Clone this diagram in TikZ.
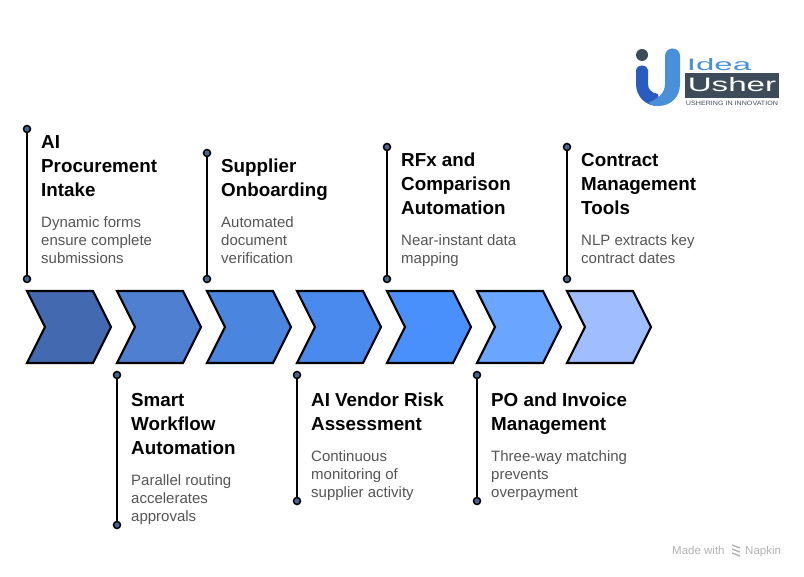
\documentclass[tikz,border=0pt]{standalone}
\usepackage{fontspec}
\setmainfont{Liberation Sans}
\usetikzlibrary{positioning}
\definecolor{chevA}{HTML}{4369B0}
\definecolor{chevB}{HTML}{4F7FD0}
\definecolor{chevC}{HTML}{4A85E0}
\definecolor{chevD}{HTML}{4A8AEE}
\definecolor{chevE}{HTML}{4A90FC}
\definecolor{chevF}{HTML}{6AA5FF}
\definecolor{chevG}{HTML}{A0BEFF}
\definecolor{pinfill}{HTML}{4A6290}
\definecolor{bodygrey}{HTML}{555555}
\definecolor{logodark}{HTML}{3D4B5A}
\definecolor{logoblue}{HTML}{4A90D8}
\definecolor{logodeep}{HTML}{2A5CC0}
\begin{document}
\begin{tikzpicture}[x=1pt,y=-1pt,line join=miter]
  \tikzset{stem/.style={draw=black,line width=2.3pt}}
  \tikzset{pin/.style={circle,draw=black,fill=pinfill,line width=1.5pt,inner sep=0pt,minimum size=7pt}}
  \tikzset{head/.style={anchor=north west,align=left,inner sep=0pt,font=\fontsize{18.8}{24}\selectfont\bfseries}}
  \tikzset{body/.style={anchor=north west,align=left,inner sep=0pt,text=bodygrey,font=\fontsize{15}{18}\selectfont}}
  \tikzset{logotext/.style={inner sep=0pt,transform shape}}
  \tikzset{foot/.style={inner sep=0pt,anchor=base west,text=black!30,font=\fontsize{11.5}{13}\selectfont}}
  \useasboundingbox (0,0) rectangle (804,577);
  % chevrons
  \foreach \name/\col [count=\i from 0] in {a/chevA,b/chevB,c/chevC,d/chevD,e/chevE,f/chevF,g/chevG} {
    \draw[fill=\col,line width=2.2pt] ({27+90*\i},291) -- ({93+90*\i},291) -- ({111+90*\i},327)
      -- ({93+90*\i},363) -- ({27+90*\i},363) -- ({45+90*\i},327) -- cycle;
  }
  % upper stems
  \foreach \name/\x/\ytop in {1/27/129,3/207/153,5/387/147,7/567/147} {
    \node[pin] (t\name) at (\x,\ytop) {};
    \node[pin] (b\name) at (\x,279) {};
    \path[stem] (t\name) -- (b\name);
  }
  % lower stems
  \foreach \name/\x/\ybot in {2/117/525,4/297/501,6/477/501} {
    \node[pin] (t\name) at (\x,375) {};
    \node[pin] (b\name) at (\x,\ybot) {};
    \path[stem] (t\name) -- (b\name);
  }
  % texts
  \node[head] (h1) at (41,135) {AI\\Procurement\\Intake};
  \node[body] (p1) at (41,216) {Dynamic forms\\ensure complete\\submissions};
  \node[head] (h3) at (221,159) {Supplier\\Onboarding};
  \node[body] (p3) at (221,216) {Automated\\document\\verification};
  \node[head] (h5) at (401,153) {RFx and\\Comparison\\Automation};
  \node[body] (p5) at (401,234) {Near-instant data\\mapping};
  \node[head] (h7) at (581,153) {Contract\\Management\\Tools};
  \node[body] (p7) at (581,234) {NLP extracts key\\contract dates};
  \node[head] (h2) at (131,393) {Smart\\Workflow\\Automation};
  \node[body] (p2) at (131,474) {Parallel routing\\accelerates\\approvals};
  \node[head] (h4) at (311,393) {AI Vendor Risk\\Assessment};
  \node[body] (p4) at (311,450) {Continuous\\monitoring of\\supplier activity};
  \node[head] (h6) at (491,393) {PO and Invoice\\Management};
  \node[body] (p6) at (491,450) {Three-way matching\\prevents\\overpayment};
  % logo
  \fill[logodark] (642,55) circle (6);
  \fill[logodeep] (636,70) .. controls (636,64) and (648,64) .. (648,70) -- (648,84)
    .. controls (648,90) and (652,93) .. (658,94) -- (660,105.9) -- (658,106)
    .. controls (645,106) and (636,96) .. (636,84) -- cycle;
  \fill[logoblue] (665,56) .. controls (665,46) and (680,46) .. (680,56) -- (680,84)
    .. controls (680,97) and (671,106) .. (658,106) .. controls (654,106) and (651,105) .. (648,103)
    .. controls (657,99) and (665,94) .. (665,84) -- cycle;
  \fill[logodark] (685,73) rectangle (779,98);
  \node[logotext,xscale=2,text=logoblue,font=\fontsize{16.5}{17}\selectfont] (idea) at (719,65) {Idea};
  \node[logotext,xscale=1.7,text=white,font=\fontsize{19.5}{20}\selectfont] (usher) at (732,85) {Usher};
  \node[logotext,xscale=1.15,text=logodark,font=\fontsize{6.2}{7}\selectfont] (tag) at (732,103) {USHERING IN INNOVATION};
  % footer
  \node[foot] (made) at (672,554) {Made with};
  \node[foot] (napkin) at (745,554) {Napkin};
  \foreach \yy in {545,549,553} {
    \draw[black!30,line width=1.4pt] (732,\yy) -- (740,{\yy+3});
  }
\end{tikzpicture}
\end{document}
